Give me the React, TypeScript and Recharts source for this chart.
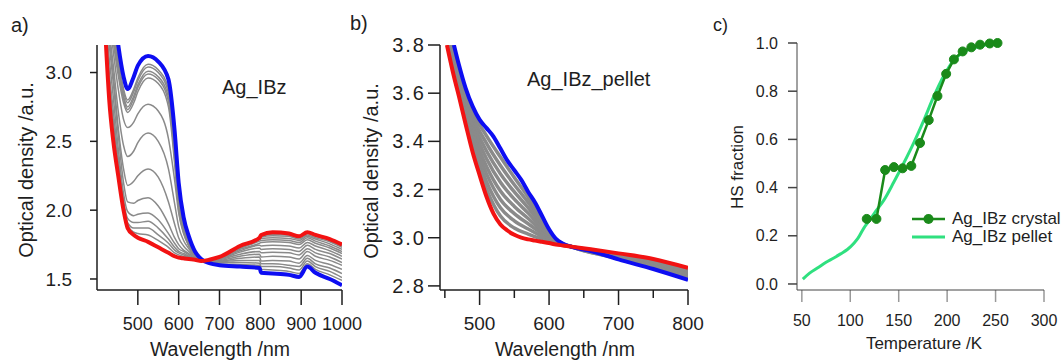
import { Line, LineChart, ReferenceLine, XAxis, YAxis } from "recharts";

const FONT = '"Liberation Sans", Arial, sans-serif';
const INK = "#1e1e1e";
const GRAY = "#8a8a8a";
const BLUE = "#0d0df2";
const RED = "#f21212";
const DARK_GREEN = "#1a8a1a";
const LIGHT_GREEN = "#2fe07f";

// a) Ag_IBz crystal, optical density vs wavelength
const WL_A = [422, 430, 440, 452, 465, 475, 490, 500, 525, 550, 575, 590, 600, 612, 625, 640, 655, 675, 700, 750, 798, 802, 830, 870, 895, 915, 935, 970, 1000];
const BLUE_A = [null, null, 3.48, 3.2, 2.97, 2.88, 2.97, 3.05, 3.12, 3.08, 2.95, 2.58, 2.2, 1.95, 1.81, 1.7, 1.645, 1.615, 1.6, 1.59, 1.58, 1.545, 1.54, 1.53, 1.515, 1.59, 1.545, 1.5, 1.455];
const RED_A = [3.2, 2.8, 2.5, 2.25, 2.0, 1.87, 1.82, 1.8, 1.77, 1.73, 1.69, 1.665, 1.655, 1.65, 1.645, 1.64, 1.63, 1.64, 1.66, 1.74, 1.8, 1.82, 1.84, 1.83, 1.81, 1.84, 1.82, 1.79, 1.75];
const GRAY_A = [
  [3.8, 3.6, 3.35, 3.1, 2.88, 2.8, 2.88, 2.96, 3.06, 3.02, 2.88, 2.5, 2.12, 1.9, 1.77, 1.68, 1.635, 1.62, 1.61, 1.605, 1.6, 1.57, 1.565, 1.555, 1.54, 1.61, 1.57, 1.53, 1.49],
  [3.7, 3.5, 3.3, 3.08, 2.86, 2.78, 2.86, 2.94, 3.04, 3.0, 2.85, 2.45, 2.08, 1.88, 1.76, 1.675, 1.635, 1.625, 1.62, 1.62, 1.615, 1.59, 1.59, 1.58, 1.565, 1.63, 1.59, 1.555, 1.51],
  [3.7, 3.5, 3.28, 3.05, 2.83, 2.75, 2.83, 2.91, 3.01, 2.97, 2.82, 2.42, 2.05, 1.86, 1.75, 1.675, 1.635, 1.628, 1.625, 1.635, 1.635, 1.61, 1.61, 1.6, 1.59, 1.65, 1.61, 1.58, 1.54],
  [3.7, 3.48, 3.25, 3.02, 2.81, 2.73, 2.81, 2.89, 2.99, 2.95, 2.79, 2.38, 2.03, 1.85, 1.745, 1.67, 1.635, 1.63, 1.63, 1.65, 1.66, 1.63, 1.635, 1.63, 1.615, 1.67, 1.635, 1.605, 1.57],
  [3.65, 3.45, 3.22, 2.98, 2.78, 2.71, 2.78, 2.86, 2.96, 2.92, 2.75, 2.34, 2.0, 1.84, 1.74, 1.67, 1.635, 1.632, 1.635, 1.665, 1.68, 1.66, 1.665, 1.66, 1.645, 1.7, 1.665, 1.635, 1.6],
  [3.6, 3.4, 3.15, 2.88, 2.66, 2.6, 2.64, 2.7, 2.77, 2.72, 2.52, 2.22, 1.98, 1.83, 1.74, 1.67, 1.635, 1.635, 1.64, 1.68, 1.7, 1.69, 1.695, 1.69, 1.675, 1.72, 1.69, 1.66, 1.62],
  [3.5, 3.3, 3.05, 2.72, 2.47, 2.39, 2.43, 2.49, 2.56, 2.5, 2.3, 2.05, 1.88, 1.78, 1.72, 1.665, 1.635, 1.637, 1.645, 1.695, 1.725, 1.715, 1.72, 1.715, 1.7, 1.745, 1.715, 1.685, 1.645],
  [3.45, 3.25, 2.98, 2.6, 2.3, 2.18, 2.21, 2.25, 2.3, 2.24, 2.06, 1.9, 1.8, 1.74, 1.7, 1.66, 1.635, 1.638, 1.65, 1.705, 1.745, 1.74, 1.745, 1.74, 1.725, 1.765, 1.74, 1.705, 1.665],
  [3.4, 3.2, 2.92, 2.55, 2.2, 2.06, 2.05, 2.07, 2.09, 2.03, 1.9, 1.8, 1.75, 1.71, 1.685, 1.655, 1.635, 1.64, 1.652, 1.715, 1.76, 1.765, 1.77, 1.765, 1.75, 1.785, 1.76, 1.725, 1.685],
  [3.35, 3.1, 2.82, 2.45, 2.12, 1.99, 1.96, 1.97, 1.98, 1.93, 1.83, 1.76, 1.72, 1.7, 1.675, 1.65, 1.635, 1.64, 1.655, 1.722, 1.775, 1.78, 1.785, 1.78, 1.765, 1.8, 1.775, 1.74, 1.7],
  [3.3, 3.0, 2.72, 2.38, 2.07, 1.94, 1.91, 1.91, 1.92, 1.87, 1.79, 1.73, 1.7, 1.685, 1.665, 1.645, 1.633, 1.64, 1.657, 1.728, 1.785, 1.795, 1.8, 1.795, 1.78, 1.81, 1.79, 1.755, 1.715],
  [3.25, 2.95, 2.65, 2.33, 2.04, 1.91, 1.87, 1.87, 1.87, 1.82, 1.76, 1.71, 1.69, 1.675, 1.66, 1.645, 1.632, 1.64, 1.658, 1.733, 1.79, 1.805, 1.815, 1.81, 1.79, 1.82, 1.8, 1.77, 1.73],
  [3.22, 2.9, 2.58, 2.29, 2.02, 1.89, 1.84, 1.83, 1.82, 1.78, 1.73, 1.69, 1.675, 1.665, 1.655, 1.642, 1.632, 1.64, 1.659, 1.736, 1.795, 1.81, 1.825, 1.82, 1.8, 1.83, 1.81, 1.78, 1.74],
];
const TICKS_A_X = [500, 600, 700, 800, 900, 1000];
const TICKS_A_Y = [1.5, 2.0, 2.5, 3.0];

// b) Ag_IBz pellet
const WL_B = [453, 463, 470, 480, 490, 500, 510, 520, 530, 540, 550, 560, 570, 580, 590, 600, 610, 620, 635, 660, 700, 750, 800];
const BLUE_B = [null, 3.8, 3.72, 3.62, 3.545, 3.49, 3.455, 3.42, 3.37, 3.32, 3.28, 3.24, 3.19, 3.145, 3.09, 3.035, 2.995, 2.975, 2.96, 2.945, 2.91, 2.87, 2.825];
const RED_B = [3.8, 3.67, 3.59, 3.47, 3.355, 3.26, 3.17, 3.1, 3.055, 3.03, 3.012, 3.0, 2.993, 2.988, 2.983, 2.978, 2.972, 2.968, 2.962, 2.952, 2.935, 2.912, 2.875];
const WL_B_GRAY = [455, 470, 490, 510, 530, 550, 570, 590, 610, 635, 700, 800];
const GRAY_B = [
  [3.84, 3.706, 3.524, 3.423, 3.335, 3.25, 3.168, 3.074, 2.992, 2.96, 2.913, 2.831],
  [3.83, 3.69, 3.503, 3.392, 3.3, 3.22, 3.146, 3.062, 2.99, 2.96, 2.915, 2.836],
  [3.825, 3.677, 3.482, 3.36, 3.265, 3.19, 3.124, 3.051, 2.987, 2.961, 2.918, 2.842],
  [3.82, 3.663, 3.461, 3.328, 3.23, 3.16, 3.102, 3.04, 2.985, 2.961, 2.921, 2.847],
  [3.81, 3.647, 3.439, 3.296, 3.194, 3.13, 3.08, 3.028, 2.982, 2.961, 2.924, 2.853],
  [3.8, 3.633, 3.418, 3.265, 3.159, 3.1, 3.058, 3.017, 2.98, 2.961, 2.927, 2.858],
  [3.795, 3.619, 3.397, 3.233, 3.124, 3.07, 3.036, 3.005, 2.977, 2.962, 2.93, 2.864],
  [3.79, 3.604, 3.376, 3.202, 3.09, 3.04, 3.015, 2.994, 2.975, 2.962, 2.932, 2.869],
];
// major ticks carry a label, minor ones (450, 550, ...) are short and bare
const TICKS_B_X = [450, 500, 550, 600, 650, 700, 750, 800];
const MAJOR_B_X = [500, 600, 700, 800];
const TICKS_B_Y = [2.8, 3.0, 3.2, 3.4, 3.6, 3.8];

// c) HS fraction vs temperature
const CRYSTAL_T = [117, 127, 136, 145, 154, 163, 172, 181, 190, 199, 207, 216, 225, 234, 244, 252];
const CRYSTAL_HS = [0.27, 0.27, 0.473, 0.485, 0.48, 0.49, 0.585, 0.68, 0.78, 0.872, 0.932, 0.965, 0.982, 0.993, 0.998, 1.0];
const PELLET_T = [51, 58, 66, 75, 83, 90, 97, 104, 108, 114, 120, 126, 135, 145, 155, 166, 176, 186, 197, 207, 217, 231, 243];
const PELLET_HS = [0.02, 0.045, 0.066, 0.09, 0.108, 0.125, 0.143, 0.17, 0.19, 0.232, 0.265, 0.3, 0.35, 0.423, 0.5, 0.59, 0.68, 0.776, 0.867, 0.93, 0.963, 0.983, 0.995];
const TICKS_C_X = [50, 100, 150, 200, 250, 300];
const TICKS_C_Y = [0, 0.2, 0.4, 0.6, 0.8, 1.0];

// axis ranges and plot sizes (px) for each panel
const DOM_A_X = [400, 1000];
const DOM_A_Y = [1.42, 3.2];
const DOM_B_X = [443, 800];
const DOM_B_Y = [2.783, 3.8];
const DOM_C_X = [45, 300];
const DOM_C_Y = [-0.025, 1.0];
const perPx = (d: number[], px: number) => (d[1] - d[0]) / px;

const pts = (xs: number[], ys: (number | null)[]) => xs.map((x, i) => ({ x, y: ys[i] }));
const fmt1 = (v: number) => v.toFixed(1);

// x tick label (optionally with its mark, used for the major/minor axis of b)
function xTick(size: number, withMark: boolean, major: (v: number) => boolean = () => true) {
  return (p: any) => {
    const v = p.payload.value;
    const top = Number(p.y) - 12 - 15;
    const big = major(v);
    return (
      <g>
        {withMark && <line x1={p.x} x2={p.x} y1={top} y2={top + (big ? 15 : 8)} stroke={INK} strokeWidth={1.5} />}
        {big && (
          <text x={p.x} y={p.y} dy="0.71em" textAnchor="middle" fontSize={size} fontFamily={FONT} fill={INK}>
            {v}
          </text>
        )}
      </g>
    );
  };
}

function yTick(size: number, spacing = 0) {
  return (p: any) => (
    <text x={p.x} y={p.y} dy="0.355em" textAnchor="end" fontSize={size} fontFamily={FONT} fill={INK} letterSpacing={spacing}>
      {fmt1(p.payload.value)}
    </text>
  );
}

// tick marks as short reference segments hanging outside the plot
function xMarks(ticks: number[], yMin: number, len: number, color: string) {
  return ticks.map((v) => (
    <ReferenceLine key={`xm${v}`} segment={[{ x: v, y: yMin }, { x: v, y: yMin - len }]} stroke={color} strokeWidth={1.5} ifOverflow="visible" />
  ));
}
function yMarks(ticks: number[], xMin: number, len: number, color: string) {
  return ticks.map((v) => (
    <ReferenceLine key={`ym${v}`} segment={[{ x: xMin, y: v }, { x: xMin - len, y: v }]} stroke={color} strokeWidth={1.5} ifOverflow="visible" />
  ));
}

function Text({ x, y, size, children, center = false }: any) {
  return (
    <div
      style={{
        position: "absolute",
        left: x,
        top: y,
        fontSize: size,
        lineHeight: `${size}px`,
        whiteSpace: "nowrap",
        color: INK,
        transform: center ? "translateX(-50%)" : undefined,
      }}
    >
      {children}
    </div>
  );
}

function VText({ x, y, size, children }: any) {
  return (
    <div
      style={{
        position: "absolute",
        left: x,
        top: y,
        fontSize: size,
        lineHeight: `${size}px`,
        whiteSpace: "nowrap",
        color: INK,
        transform: "translate(-50%, -50%) rotate(-90deg)",
      }}
    >
      {children}
    </div>
  );
}

function grayLines(xs: number[], sets: number[][], width: number) {
  return sets.map((s, i) => (
    <Line
      key={`g${i}`}
      data={pts(xs, s)}
      dataKey="y"
      type="monotone"
      stroke={GRAY}
      strokeWidth={width}
      dot={false}
      isAnimationActive={false}
    />
  ));
}

export default function App() {
  const inkLine = { stroke: INK, strokeWidth: 1.5 };
  return (
    <div
      style={{
        position: "fixed",
        left: 0,
        top: 0,
        width: 1064,
        height: 362,
        background: "#fff",
        fontFamily: FONT,
        overflow: "hidden",
      }}
    >
      {/* panel a */}
      <div style={{ position: "absolute", left: 0, top: 0 }}>
        <LineChart width={380} height={362} margin={{ top: 45, right: 38, bottom: 0, left: 0 }}>
          <XAxis
            type="number"
            dataKey="x"
            domain={DOM_A_X}
            ticks={TICKS_A_X}
            interval={0}
            height={72}
            tickSize={15}
            tickMargin={12}
            axisLine={inkLine}
            tickLine={false}
            tick={xTick(18, false)}
            allowDataOverflow
          />
          <YAxis
            type="number"
            domain={DOM_A_Y}
            ticks={TICKS_A_Y}
            interval={0}
            width={97}
            tickSize={7}
            tickMargin={18}
            axisLine={inkLine}
            tickLine={false}
            tick={yTick(19)}
            allowDataOverflow
          />
          {grayLines(WL_A, GRAY_A, 1.5)}
          <Line data={pts(WL_A, BLUE_A)} dataKey="y" type="monotone" stroke={BLUE} strokeWidth={4} dot={false} isAnimationActive={false} />
          <Line data={pts(WL_A, RED_A)} dataKey="y" type="monotone" stroke={RED} strokeWidth={4} dot={false} isAnimationActive={false} />
          {xMarks(TICKS_A_X, DOM_A_Y[0], 15 * perPx(DOM_A_Y, 245), INK)}
          {yMarks(TICKS_A_Y, DOM_A_X[0], 7 * perPx(DOM_A_X, 245), INK)}
        </LineChart>
      </div>

      {/* panel b */}
      <div style={{ position: "absolute", left: 340, top: 0 }}>
        <LineChart width={380} height={362} margin={{ top: 45, right: 32, bottom: 0, left: 0 }}>
          <XAxis
            type="number"
            dataKey="x"
            domain={DOM_B_X}
            ticks={TICKS_B_X}
            interval={0}
            height={72}
            tickSize={15}
            tickMargin={12}
            axisLine={inkLine}
            tickLine={false}
            tick={xTick(19, true, (v) => MAJOR_B_X.includes(v))}
            allowDataOverflow
          />
          <YAxis
            type="number"
            domain={DOM_B_Y}
            ticks={TICKS_B_Y}
            interval={0}
            width={100}
            tickSize={12}
            tickMargin={2}
            axisLine={inkLine}
            tickLine={false}
            tick={yTick(20, 2)}
            allowDataOverflow
          />
          {grayLines(WL_B_GRAY, GRAY_B, 3.5)}
          <Line data={pts(WL_B, BLUE_B)} dataKey="y" type="monotone" stroke={BLUE} strokeWidth={4} dot={false} isAnimationActive={false} />
          <Line data={pts(WL_B, RED_B)} dataKey="y" type="monotone" stroke={RED} strokeWidth={4} dot={false} isAnimationActive={false} />
          {yMarks(TICKS_B_Y, DOM_B_X[0], 12 * perPx(DOM_B_X, 248), INK)}
        </LineChart>
      </div>

      {/* panel c */}
      <div style={{ position: "absolute", left: 700, top: 0 }}>
        <LineChart width={364} height={362} margin={{ top: 43, right: 20, bottom: 0, left: 0 }}>
          <XAxis
            type="number"
            dataKey="x"
            domain={DOM_C_X}
            ticks={TICKS_C_X}
            interval={0}
            height={72}
            tickSize={12}
            tickMargin={13}
            axisLine={{ stroke: "#444" }}
            tickLine={false}
            tick={xTick(16, false)}
          />
          <YAxis
            type="number"
            domain={DOM_C_Y}
            ticks={TICKS_C_Y}
            interval={0}
            width={97}
            tickSize={9}
            tickMargin={10}
            axisLine={{ stroke: "#444" }}
            tickLine={false}
            tick={yTick(16)}
          />
          <Line data={pts(PELLET_T, PELLET_HS)} dataKey="y" type="monotone" stroke={LIGHT_GREEN} strokeWidth={3} dot={false} isAnimationActive={false} />
          <Line
            data={pts(CRYSTAL_T, CRYSTAL_HS)}
            dataKey="y"
            type="linear"
            stroke={DARK_GREEN}
            strokeWidth={2.5}
            dot={{ r: 4.5, fill: DARK_GREEN, stroke: DARK_GREEN, strokeWidth: 1 }}
            isAnimationActive={false}
          />
          {xMarks(TICKS_C_X, DOM_C_Y[0], 12 * perPx(DOM_C_Y, 247), "#999")}
          {yMarks(TICKS_C_Y, DOM_C_X[0], 9 * perPx(DOM_C_X, 247), "#444")}
        </LineChart>
      </div>

      {/* titles and axis labels */}
      <Text x={11} y={15} size={20}>a)</Text>
      <Text x={350} y={13} size={20}>b)</Text>
      <Text x={713} y={16} size={18}>c)</Text>
      <Text x={222} y={77} size={20}>Ag_IBz</Text>
      <Text x={527} y={69} size={20}>Ag_IBz_pellet</Text>
      <Text x={220} y={340} size={19.5} center>Wavelength /nm</Text>
      <Text x={565} y={340} size={19.5} center>Wavelength /nm</Text>
      <Text x={924} y={335} size={17} center>Temperature /K</Text>
      <VText x={26} y={170} size={20}>Optical density /a.u.</VText>
      <VText x={371} y={171} size={20}>Optical density /a.u.</VText>
      <VText x={737} y={167} size={17}>HS fraction</VText>

      {/* legend of panel c */}
      <svg style={{ position: "absolute", left: 912, top: 210 }} width={34} height={36}>
        <line x1={0} y1={9} x2={33} y2={9} stroke={DARK_GREEN} strokeWidth={2.5} />
        <circle cx={16.5} cy={9} r={5} fill={DARK_GREEN} />
        <line x1={0} y1={27} x2={33} y2={27} stroke={LIGHT_GREEN} strokeWidth={3} />
      </svg>
      <Text x={952} y={209.6} size={17}>Ag_IBz crystal</Text>
      <Text x={952} y={227.6} size={17}>Ag_IBz pellet</Text>
    </div>
  );
}
